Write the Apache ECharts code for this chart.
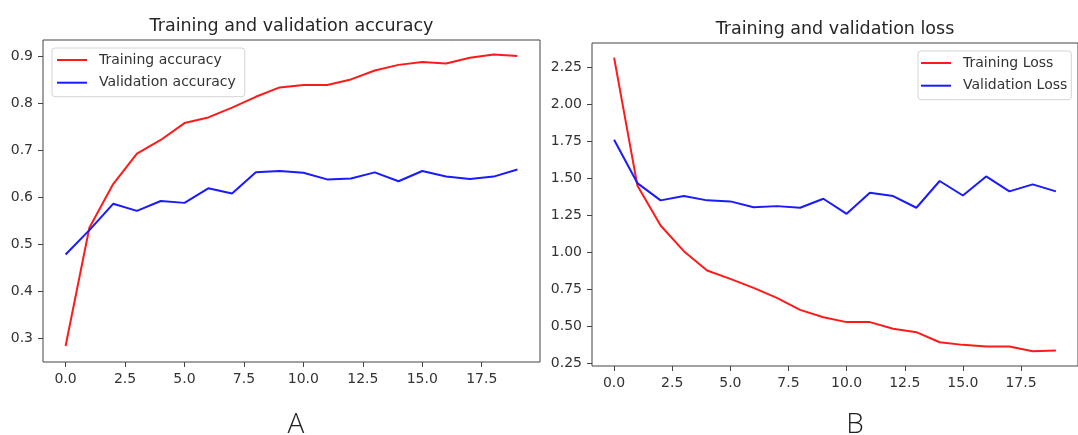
<!DOCTYPE html>
<html>
<head>
<meta charset="utf-8">
<script src="https://cdn.jsdelivr.net/npm/echarts@6/dist/echarts.min.js"></script>
<style>
html,body{margin:0;padding:0;background:#fff;}
#chart{width:1078px;height:435px;}
</style>
</head>
<body>
<div id="chart"></div>
<script>
// Data
const epochs = [0,1,2,3,4,5,6,7,8,9,10,11,12,13,14,15,16,17,18,19];
const trainingAccuracy = [0.283, 0.535, 0.628, 0.693, 0.722, 0.758, 0.770, 0.791, 0.814, 0.834, 0.839, 0.839, 0.851, 0.870, 0.882, 0.888, 0.885, 0.897, 0.904, 0.901];
const validationAccuracy = [0.478, 0.530, 0.586, 0.571, 0.592, 0.588, 0.619, 0.608, 0.653, 0.656, 0.652, 0.638, 0.640, 0.653, 0.634, 0.656, 0.644, 0.639, 0.644, 0.659];
const trainingLoss = [2.318, 1.453, 1.182, 1.008, 0.877, 0.821, 0.760, 0.692, 0.611, 0.561, 0.528, 0.528, 0.483, 0.460, 0.392, 0.374, 0.363, 0.363, 0.331, 0.336];
const validationLoss = [1.762, 1.469, 1.352, 1.381, 1.352, 1.345, 1.306, 1.313, 1.302, 1.363, 1.261, 1.403, 1.381, 1.302, 1.483, 1.385, 1.514, 1.413, 1.460, 1.413];
const xTicks = [0, 2.5, 5, 7.5, 10, 12.5, 15, 17.5];
const accTicks = [0.3, 0.4, 0.5, 0.6, 0.7, 0.8, 0.9];
const lossTicks = [0.25, 0.5, 0.75, 1.0, 1.25, 1.5, 1.75, 2.0, 2.25];
const titles = ['Training and validation accuracy', 'Training and validation loss'];
const panelLabels = ['A', 'B'];

const FONT = 'DejaVu Sans';
const TXT = '#333';
const RED = '#ff1a1a';
const BLUE = '#1a1aff';

function pairs(ys){ return epochs.map((x,i)=>[x, ys[i]]); }

function xAxis(gi){
  return {
    type:'value', gridIndex:gi, min:-0.95, max:19.95, position:'bottom',
    axisLine:{show:false, onZero:false},
    splitLine:{show:false},
    axisTick:{show:true, length:5, customValues:xTicks, lineStyle:{color:'#444', width:1}},
    axisLabel:{customValues:xTicks, margin:10, fontFamily:FONT, fontSize:14, color:TXT,
      formatter:v=>Number(v).toFixed(1)}
  };
}
function yAxis(gi, min, max, ticks, dec){
  return {
    type:'value', gridIndex:gi, min:min, max:max, position:'left',
    axisLine:{show:false, onZero:false},
    splitLine:{show:false},
    axisTick:{show:true, length:5, customValues:ticks, lineStyle:{color:'#444', width:1}},
    axisLabel:{customValues:ticks, margin:10, fontFamily:FONT, fontSize:14, color:TXT,
      formatter:v=>Number(v).toFixed(dec)}
  };
}
function line(name, ys, color, gi){
  return {
    name:name, type:'line', xAxisIndex:gi, yAxisIndex:gi, data:pairs(ys),
    showSymbol:false, symbol:'none', smooth:false, animation:false,
    lineStyle:{color:color, width:2}, itemStyle:{color:color}
  };
}
const legendCommon = {
  orient:'vertical', icon:'rect', itemWidth:30, itemHeight:2, itemGap:6.7,
  backgroundColor:'rgba(255,255,255,0.85)', borderColor:'#d4d4d4', borderWidth:1, borderRadius:3,
  textStyle:{fontFamily:FONT, fontSize:14, color:TXT, lineHeight:16, padding:[0,0,0,7]}
};

const option = {
  animation:false,
  backgroundColor:'#fff',
  title:[
    {text:titles[0], left:291.5, top:17, textAlign:'center', padding:0,
     textStyle:{fontFamily:FONT, fontSize:17.5, fontWeight:'normal', color:'#262626'}},
    {text:titles[1], left:835, top:20, textAlign:'center', padding:0,
     textStyle:{fontFamily:FONT, fontSize:17.5, fontWeight:'normal', color:'#262626'}},
    {text:panelLabels[0], left:296, top:411, textAlign:'center', padding:0,
     textStyle:{fontFamily:'Open Sans', fontSize:28, fontWeight:300, color:'#222'}},
    {text:panelLabels[1], left:855, top:411, textAlign:'center', padding:0,
     textStyle:{fontFamily:'Open Sans', fontSize:28, fontWeight:300, color:'#222'}}
  ],
  grid:[
    {left:43, top:40, width:497, height:322, show:true, borderColor:'#444', borderWidth:1, backgroundColor:'transparent', containLabel:false},
    {left:592, top:43, width:486, height:323, show:true, borderColor:'#444', borderWidth:1, backgroundColor:'transparent', containLabel:false}
  ],
  xAxis:[xAxis(0), xAxis(1)],
  yAxis:[yAxis(0, 0.249, 0.935, accTicks, 1), yAxis(1, 0.231, 2.417, lossTicks, 2)],
  legend:[
    Object.assign({}, legendCommon, {left:52, top:48, padding:[4,9,6,5],
      data:['Training accuracy','Validation accuracy']}),
    Object.assign({}, legendCommon, {left:918, top:51, padding:[4,4,6,3],
      data:['Training Loss','Validation Loss']})
  ],
  series:[
    line('Training accuracy', trainingAccuracy, RED, 0),
    line('Validation accuracy', validationAccuracy, BLUE, 0),
    line('Training Loss', trainingLoss, RED, 1),
    line('Validation Loss', validationLoss, BLUE, 1)
  ]
};
const chart = echarts.init(document.getElementById('chart'), null, {renderer:'canvas'});
chart.setOption(option);
</script>
</body>
</html>
